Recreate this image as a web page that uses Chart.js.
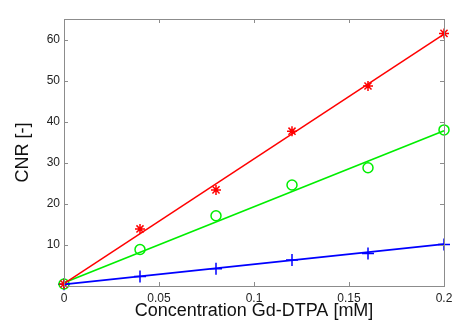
<!DOCTYPE html>
<html><head><meta charset="utf-8">
<script src="https://cdn.jsdelivr.net/npm/chart.js@4/dist/chart.umd.min.js"></script>
<style>html,body{margin:0;padding:0;background:#fff;}#wrap{width:453px;height:322px;}</style>
</head><body><div id="wrap"><canvas id="c" width="453" height="322"></canvas></div>
<script>
const concentrations = [0, 0.04, 0.08, 0.12, 0.16, 0.2];
const redValues = [0.5, 13.9, 23.4, 37.7, 48.7, 61.5];
const greenValues = [0.5, 8.9, 17.1, 24.6, 28.8, 38.0];
const blueValues = [0.4, 2.3, 4.2, 6.3, 7.9, 10.1];
const fitX = [0, 0.2];
const redFit = [0.6, 61.3];
const greenFit = [0.8, 37.8];
const blueFit = [0.4, 10.2];
const xTicks = [0, 0.05, 0.1, 0.15, 0.2];
const yTicks = [10, 20, 30, 40, 50, 60];

const pts = (xs, ys) => xs.map((x, i) => ({x: x, y: ys[i]}));
const FONT = "'Liberation Sans', Arial, sans-serif";

const boxPlugin = {
  id: 'box',
  afterDraw(chart) {
    const {ctx, chartArea: a, scales} = chart;
    ctx.save();
    ctx.strokeStyle = '#8c8c8c';
    ctx.lineWidth = 1;
    ctx.strokeRect(Math.round(a.left) + 0.5, Math.round(a.top) + 0.5, Math.round(a.right - a.left), Math.round(a.bottom - a.top));
    const L = 4;
    ctx.beginPath();
    xTicks.forEach(v => {
      const px = Math.round(scales.x.getPixelForValue(v)) + 0.5;
      ctx.moveTo(px, a.bottom); ctx.lineTo(px, a.bottom - L);
      ctx.moveTo(px, a.top); ctx.lineTo(px, a.top + L);
    });
    yTicks.forEach(v => {
      const py = Math.round(scales.y.getPixelForValue(v)) + 0.5;
      ctx.moveTo(a.left, py); ctx.lineTo(a.left + L, py);
      ctx.moveTo(a.right, py); ctx.lineTo(a.right - L, py);
    });
    ctx.stroke();
    ctx.restore();
  }
};

new Chart(document.getElementById('c'), {
  type: 'scatter',
  data: {
    datasets: [
      {data: pts(fitX, redFit), showLine: true, borderColor: '#ff0000', borderWidth: 1.5, pointRadius: 0, clip: false},
      {data: pts(fitX, greenFit), showLine: true, borderColor: '#00ee00', borderWidth: 1.8, pointRadius: 0, clip: false},
      {data: pts(fitX, blueFit), showLine: true, borderColor: '#0000ff', borderWidth: 1.8, pointRadius: 0, clip: false},
      {data: pts(concentrations, redValues), pointStyle: 'star', pointRadius: 5, borderColor: '#ff0000', backgroundColor: '#ff0000', pointBorderWidth: 1.5, clip: false},
      {data: pts(concentrations, greenValues), pointStyle: 'circle', pointRadius: 5, borderColor: '#00ee00', backgroundColor: 'rgba(0,0,0,0)', pointBorderWidth: 1.5, clip: false},
      {data: pts(concentrations, blueValues), pointStyle: 'cross', pointRadius: 6, borderColor: '#0000ff', backgroundColor: '#0000ff', pointBorderWidth: 1.5, clip: false}
    ]
  },
  options: {
    responsive: false,
    animation: false,
    layout: {padding: {top: 19, right: 1, left: 0, bottom: 0}},
    plugins: {legend: {display: false}, tooltip: {enabled: false}},
    scales: {
      x: {
        type: 'linear', min: 0, max: 0.2,
        afterFit(s) { s.height = 36; s.paddingRight = 9; },
        afterBuildTicks(s) { s.ticks = xTicks.map(v => ({value: v})); },
        grid: {display: false, drawTicks: false},
        border: {display: false},
        ticks: {color: '#222', font: {family: FONT, size: 12}, padding: 5, maxRotation: 0,
          callback: v => String(v)},
        title: {display: true, text: 'Concentration Gd-DTPA [mM]', color: '#111', font: {family: FONT, size: 18}, padding: {top: 0, bottom: 0}}
      },
      y: {
        type: 'linear', min: 0, max: 65,
        afterFit(s) { s.width = 64; },
        afterBuildTicks(s) { s.ticks = yTicks.map(v => ({value: v})); },
        grid: {display: false, drawTicks: false},
        border: {display: false},
        ticks: {color: '#222', font: {family: FONT, size: 12}, padding: 4},
        title: {display: true, text: 'CNR [-]', color: '#111', font: {family: FONT, size: 18}, padding: {top: 12, bottom: 0}}
      }
    }
  },
  plugins: [boxPlugin]
});
</script>
</body></html>
